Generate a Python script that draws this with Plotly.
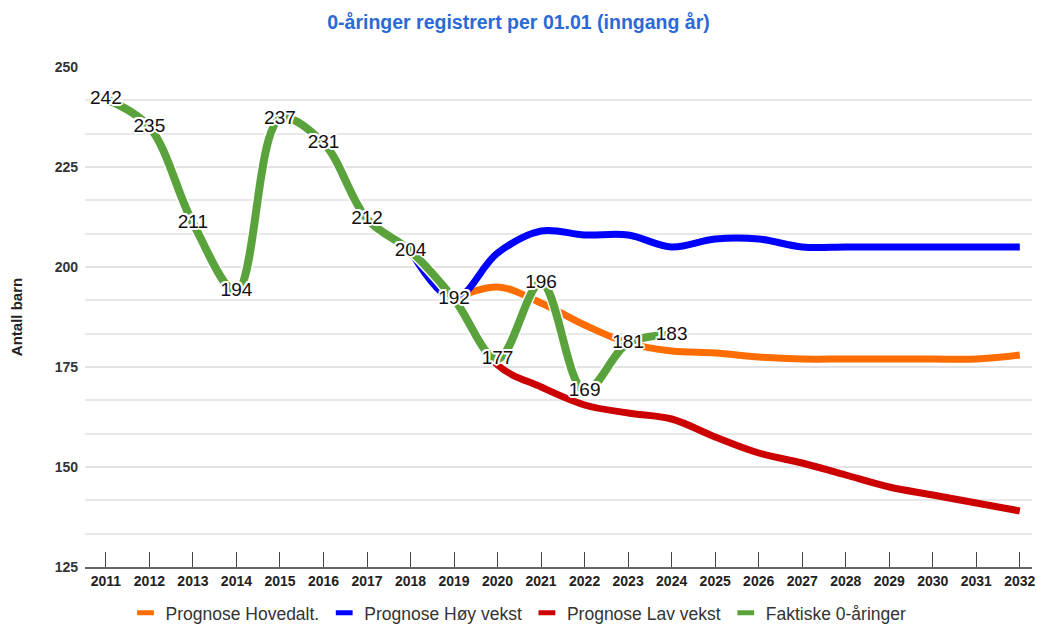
import plotly.graph_objects as go

# ---------------------------------------------------------------------------
# Data
# ---------------------------------------------------------------------------

years = [str(y) for y in range(2011, 2033)]

# Prognose Hovedalt. (starts 2019)
hovedalt = [None] * 8 + [192, 195, 191, 185.5, 181, 179, 178.5, 177.5, 177, 177, 177, 177, 177, 178]
# Prognose Høy vekst (starts 2018)
hoy = [None] * 7 + [204, 192, 203.5, 209, 208, 208, 205, 207, 207, 205, 205, 205, 205, 205, 205]
# Prognose Lav vekst (starts 2018)
lav = [None] * 7 + [204, 192, 175.5, 170, 165.5, 163.5, 162, 157.5, 153.5, 151, 148, 145, 143, 141, 139]
# Faktiske 0-åringer
faktiske = [242, 235, 211, 194, 237, 231, 212, 204, 192, 177, 196, 169, 181, 183] + [None] * 8

COLOR_HOVED = "#ff6d00"
COLOR_HOY = "#0000ff"
COLOR_LAV = "#cc0000"
COLOR_FAKT = "#5aa33c"

FONT = "Arial, Liberation Sans, sans-serif"
HALO = ("-1.5px -1.5px 0 #fff, 1.5px -1.5px 0 #fff, -1.5px 1.5px 0 #fff, 1.5px 1.5px 0 #fff, "
        "0 2px 0 #fff, 0 -2px 0 #fff, 2px 0 0 #fff, -2px 0 0 #fff")

fig = go.Figure()

for name, vals, color in [
    ("Prognose Hovedalt.", hovedalt, COLOR_HOVED),
    ("Prognose Høy vekst", hoy, COLOR_HOY),
    ("Prognose Lav vekst", lav, COLOR_LAV),
]:
    fig.add_trace(go.Scatter(
        x=years, y=vals, mode="lines", name=name, showlegend=False,
        line={"color": color, "width": 7, "shape": "spline", "smoothing": 1},
        hoverinfo="skip",
    ))

# white outline under the actuals line
fig.add_trace(go.Scatter(
    x=years, y=faktiske, mode="lines", showlegend=False, hoverinfo="skip",
    line={"color": "white", "width": 11, "shape": "spline", "smoothing": 1},
))
fig.add_trace(go.Scatter(
    x=years, y=faktiske, mode="lines+text", name="Faktiske 0-åringer",
    showlegend=False,
    line={"color": COLOR_FAKT, "width": 8, "shape": "spline", "smoothing": 1},
    text=[str(v) if v is not None else "" for v in faktiske],
    textposition="middle center",
    textfont={"family": FONT, "size": 19, "color": "#111", "shadow": HALO},
))

# legend entries (short colour bars)
for name, color in [
    ("Prognose Hovedalt.", COLOR_HOVED),
    ("Prognose Høy vekst", COLOR_HOY),
    ("Prognose Lav vekst", COLOR_LAV),
    ("Faktiske 0-åringer", COLOR_FAKT),
]:
    fig.add_trace(go.Scatter(
        x=[None], y=[None], mode="markers", name=name,
        marker={"color": color, "symbol": "line-ew", "size": 12,
                "line": {"color": color, "width": 5}},
    ))

fig.update_layout(
    width=1037,
    height=628,
    margin={"l": 85, "r": 5, "t": 67, "b": 61},
    paper_bgcolor="white",
    plot_bgcolor="white",
    font={"family": FONT, "color": "#333"},
    title={
        "text": "<b>0-åringer registrert per 01.01 (inngang år)</b>",
        "x": 0.5, "xanchor": "center", "y": 0.965, "yanchor": "middle",
        "font": {"size": 19.5, "color": "#2a6ad6", "family": FONT},
    },
    xaxis={
        "type": "category",
        "range": [-0.48, 21.28],
        "automargin": False,
        "showgrid": False,
        "showline": True,
        "linecolor": "#666",
        "linewidth": 1.5,
        "ticks": "inside",
        "ticklen": 15,
        "tickcolor": "#444",
        "tickfont": {"size": 14, "color": "#222", "weight": "bold"},
        "zeroline": False,
    },
    yaxis={
        "title": {"text": "<b>Antall barn</b>", "font": {"size": 15, "color": "#222"}, "standoff": 28},
        "range": [125, 250],
        "automargin": False,
        "tick0": 125,
        "dtick": 25,
        "showgrid": True,
        "gridcolor": "#e3e3e3",
        "gridwidth": 1.5,
        "minor": {"dtick": 25 / 3, "showgrid": True, "gridcolor": "#e8e8e8", "gridwidth": 1.5},
        "zeroline": False,
        "tickfont": {"size": 14, "color": "#333", "weight": "bold"},
        "ticklabelstandoff": 6,
    },
    legend={
        "orientation": "h",
        "xref": "container",
        "x": 0.5, "xanchor": "center",
        "yref": "container",
        "y": 0.024, "yanchor": "middle",
        "font": {"size": 17.5, "color": "#333"},
        "itemwidth": 30,
        "tracegroupgap": 0,
    },
)

fig.write_html(
    "out.html",
    config={"displayModeBar": False},
    post_script="document.body.style.margin='0';",
)
